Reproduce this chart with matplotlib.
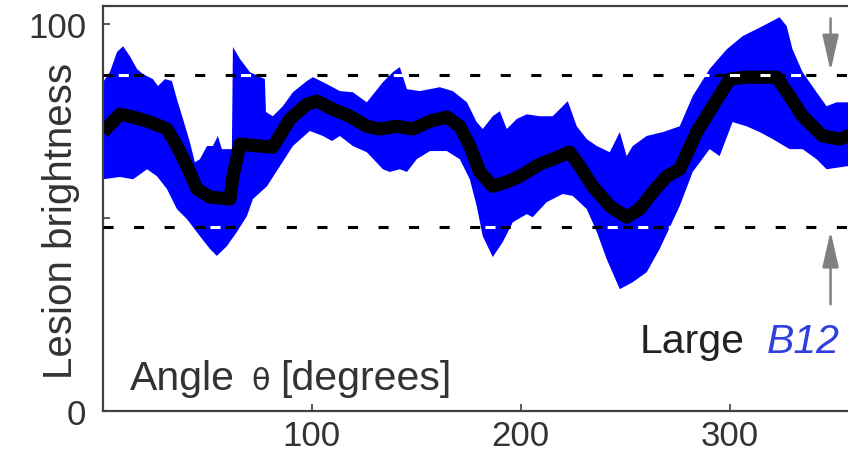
import matplotlib
matplotlib.use("Agg")
import matplotlib.pyplot as plt
import numpy as np

plt.rcParams['font.family'] = ['Liberation Sans', 'DejaVu Sans']

# mean brightness curve (angle in degrees, brightness)
mean_angle = [0, 8.1, 14.4, 22.5, 30.6, 35.4, 40.2, 45.0, 51.2, 60.8, 62.2, 65.6, 75.1, 81.3,
              89.5, 97.6, 102.4, 110.0, 118.2, 126.3, 132.5, 140.7, 148.3, 156.5, 164.6, 170.8,
              175.6, 180.4, 186.6, 193.3, 199.5, 209.1, 215.3, 223.4, 228.2, 234.4, 242.6,
              250.7, 256.9, 263.2, 269.9, 276.1, 284.2, 291.9, 300.0, 308.1, 322.5, 328.7,
              334.9, 344.5, 352.6, 356.5, 360]
mean_val = [72.1, 76.7, 76.0, 74.7, 72.9, 68.5, 63.3, 57.4, 55.3, 54.8, 60.7, 69.0, 68.5, 68.2,
            75.5, 79.3, 80.1, 78.0, 76.2, 73.6, 72.9, 73.6, 72.9, 74.9, 76.0, 73.6,
            68.5, 61.8, 58.1, 59.2, 60.7, 63.8, 65.1, 66.9, 63.3, 58.1, 53.0,
            50.1, 52.2, 56.6, 60.7, 62.5, 72.1, 78.8, 85.8, 86.3, 86.3, 81.4,
            76.2, 71.1, 70.3, 71.1, 71.5]

# upper edge of the spread band
upper_angle = [0, 3.3, 6.7, 9.6, 12.9, 16.3, 19.1, 23.9, 26.3, 29.7, 33.0, 35.4, 38.3, 41.6,
               44.0, 46.4, 49.8, 52.6, 55.0, 56.9, 59.8, 61.7, 62.2, 65.6, 70.3, 77.5, 78.0,
               81.3, 86.1, 90.9, 97.6, 100.5, 107.2, 113.4, 119.6, 126.3, 134.0, 138.8, 142.1,
               145.5, 151.7, 161.2, 167.5, 174.2, 178.9, 181.8, 186.6, 190.0, 193.3, 198.1,
               202.9, 209.1, 215.3, 222.5, 226.8, 231.6, 236.4, 242.6, 247.4, 250.7, 253.6,
               260.3, 268.0, 276.1, 282.3, 290.4, 298.6, 306.2, 315.8, 323.9, 327.3, 330.1,
               334.9, 341.6, 346.4, 351.2, 356.5, 360]
upper_val = [85.0, 87.6, 92.8, 94.3, 91.7, 88.4, 87.1, 85.8, 84.0, 85.8, 85.3, 80.6, 75.5, 69.5,
             64.3, 65.1, 68.5, 68.5, 71.1, 67.7, 67.7, 67.7, 94.1, 91.0, 87.6, 85.8, 77.3,
             76.2, 78.8, 82.4, 85.3, 86.3, 84.5, 82.7, 82.4, 79.8, 85.0, 87.6, 88.9,
             83.2, 82.7, 83.7, 82.7, 79.8, 74.7, 72.9, 76.2, 77.5, 72.9, 75.5,
             76.7, 76.2, 76.2, 80.1, 73.6, 70.3, 68.5, 66.9, 72.1, 65.9, 68.5,
             71.1, 72.1, 73.6, 81.4, 88.4, 93.5, 96.9, 99.5, 101.8, 99.5, 93.5,
             87.6, 82.4, 78.8, 79.8, 79.8, 80.0]

# lower edge of the spread band
lower_angle = [0, 8.1, 14.4, 21.1, 25.8, 30.6, 35.4, 40.2, 46.4, 51.2, 54.5, 59.3, 64.1, 68.9,
               71.8, 78.5, 84.7, 90.9, 99.0, 105.3, 109.6, 113.4, 119.6, 126.3, 134.0, 137.3,
               142.1, 145.5, 150.2, 156.5, 164.6, 170.8, 175.6, 178.9, 181.8, 186.6, 191.4,
               196.2, 202.9, 205.7, 212.4, 220.1, 224.9, 231.6, 236.4, 241.1, 247.4, 253.6,
               260.3, 266.5, 276.1, 282.3, 290.4, 295.2, 301.4, 308.1, 314.4, 320.6, 328.7,
               334.9, 341.6, 346.4, 356.5, 360]
lower_val = [59.9, 60.5, 59.9, 62.5, 60.7, 57.4, 52.2, 49.6, 45.2, 41.9, 40.1, 42.6, 46.3, 50.4,
             54.8, 58.1, 63.3, 68.5, 72.4, 71.1, 69.8, 71.1, 68.5, 66.9, 62.5, 61.8,
             62.5, 61.8, 65.1, 67.2, 67.2, 65.1, 59.9, 53.0, 45.2, 39.8, 43.7,
             48.8, 50.9, 50.1, 54.0, 56.1, 55.6, 52.2, 46.3, 39.3, 31.5, 33.3,
             35.9, 41.9, 53.0, 61.8, 67.7, 65.9, 74.7, 73.6, 72.1, 70.3, 67.7,
             67.7, 65.1, 62.5, 63.3, 63.0]

thresholds = [86.8, 47.6]
x_ticks = [100, 200, 300]
y_ticks = [0, 50, 100]
y_ticklabels = ['0', '', '100']

fig = plt.figure(figsize=(8.48, 4.56), dpi=100)
ax = fig.add_axes([103/848, 44/456, 752/848, 405/456])

ua, uv = np.array(upper_angle), np.array(upper_val)
la, lv = np.array(lower_angle), np.array(lower_val)
ax.fill(np.r_[ua, la[::-1]], np.r_[uv, lv[::-1]], color='#0000ff', lw=0, zorder=1)
ax.plot(mean_angle, mean_val, color='black', lw=9.5, solid_capstyle='butt',
        solid_joinstyle='round', zorder=2)

for t in thresholds:
    ax.axhline(t, color='white', lw=2.2, linestyle=(5, (3.3, 6.7)), zorder=3)
    ax.axhline(t, color='black', lw=2.2, linestyle=(0, (3.3, 6.7)), zorder=4)

ax.set_xlim(0, 360)
ax.set_ylim(0, 104.7)
ax.set_xticks(x_ticks)
ax.set_yticks(y_ticks)
ax.set_yticklabels(y_ticklabels)
ax.tick_params(direction='in', length=5, width=1.2, colors='#404040',
               labelcolor='#333333', labelsize=25, pad=6)
ax.tick_params(axis='y', pad=12)
for s in ax.spines.values():
    s.set_color('#404040')
    s.set_linewidth(1.6)

ax.set_ylabel('Lesion brightness', fontsize=29, color='#333333')
ax.yaxis.set_label_coords(-0.03, 0.471)

ax.text(12.9, 5.7, 'Angle', fontsize=29.5, color='#333333', ha='left', va='baseline')
ax.text(71.0, 5.7, '\u03b8', fontsize=22, color='#333333', ha='left', va='baseline',
        family=['DejaVu Sans'])
ax.text(84.7, 5.7, '[degrees]', fontsize=29.5, color='#333333', ha='left', va='baseline')
ax.text(257, 15.2, 'Large', fontsize=29.5, color='#222222', ha='left', va='baseline')
ax.text(317.7, 15.2, 'B12', fontsize=29.5, color='#2f3fe0', style='italic', ha='left',
        va='baseline')

arrow_kw = dict(arrowstyle='-|>,head_length=2.2,head_width=0.5', color='#808080', lw=1.8,
                shrinkA=0, shrinkB=0)
ax.annotate('', xy=(348.3, 87.9), xytext=(348.3, 101.5), arrowprops=arrow_kw)
ax.annotate('', xy=(348.3, 46.5), xytext=(348.3, 27.6), arrowprops=arrow_kw)

fig.savefig('out.png', dpi=100)
